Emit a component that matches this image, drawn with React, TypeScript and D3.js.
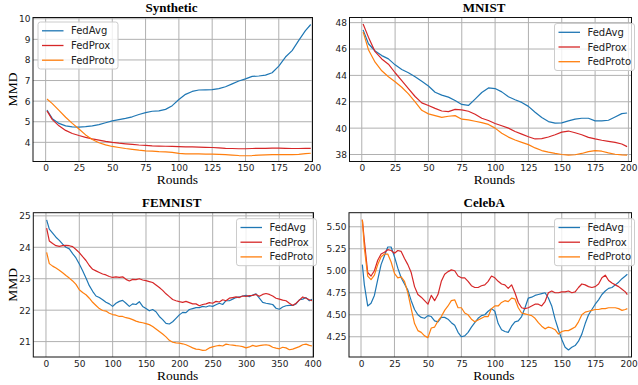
import React, { useRef, useEffect } from 'react'
import * as d3 from 'd3'

const SERIES = ['FedAvg', 'FedProx', 'FedProto']
const COLORS = ['#1f77b4', '#d62728', '#ff7f0e']

// x positions (communication rounds)
const roundsShort = [1, ...d3.range(5, 200, 5), 199]
const roundsFemnist = [1, ...d3.range(5, 400, 5), 399]
const roundsCeleba = [1, ...d3.range(2.5, 198, 2.5), 199]

const ticks200 = [0, 25, 50, 75, 100, 125, 150, 175, 200]
const ticks400 = [0, 50, 100, 150, 200, 250, 300, 350, 400]

// Synthetic
const synthAvg = [5.57, 5.15, 4.92, 4.80, 4.75, 4.74, 4.76, 4.80, 4.86, 4.95, 5.04, 5.10, 5.16, 5.24, 5.35, 5.44, 5.51, 5.53, 5.60, 5.78, 6.08, 6.33, 6.47, 6.54, 6.55, 6.56, 6.61, 6.70, 6.84, 6.98, 7.08, 7.20, 7.22, 7.26, 7.38, 7.70, 8.14, 8.45, 8.95, 9.42, 9.72]
const synthProx = [5.53, 5.10, 4.80, 4.58, 4.43, 4.33, 4.24, 4.17, 4.11, 4.05, 4.00, 3.96, 3.93, 3.90, 3.87, 3.85, 3.83, 3.82, 3.81, 3.80, 3.79, 3.78, 3.78, 3.77, 3.76, 3.75, 3.73, 3.71, 3.70, 3.69, 3.69, 3.70, 3.71, 3.71, 3.72, 3.72, 3.71, 3.70, 3.70, 3.71, 3.71]
const synthProto = [6.10, 5.88, 5.55, 5.22, 4.92, 4.65, 4.36, 4.14, 3.98, 3.88, 3.80, 3.75, 3.70, 3.66, 3.62, 3.59, 3.57, 3.55, 3.54, 3.51, 3.46, 3.44, 3.44, 3.44, 3.43, 3.43, 3.42, 3.40, 3.38, 3.36, 3.35, 3.36, 3.38, 3.39, 3.40, 3.40, 3.40, 3.40, 3.42, 3.45, 3.47]

// MNIST
const mnistAvg = [47.45, 46.4, 45.85, 45.5, 45.25, 44.8, 44.45, 44.2, 43.9, 43.55, 43.2, 42.72, 42.5, 42.35, 42.1, 41.8, 41.72, 42.2, 42.7, 43.05, 43.0, 42.75, 42.38, 42.15, 41.95, 41.65, 41.2, 40.8, 40.5, 40.38, 40.4, 40.55, 40.68, 40.75, 40.75, 40.55, 40.55, 40.6, 40.85, 41.1, 41.15]
const mnistProx = [47.9, 46.9, 45.8, 45.25, 44.85, 44.2, 43.6, 43.0, 42.4, 41.92, 41.72, 41.5, 41.3, 41.25, 41.42, 41.38, 41.28, 41.05, 40.75, 40.58, 40.35, 40.18, 40.0, 39.75, 39.55, 39.35, 39.18, 39.2, 39.33, 39.5, 39.7, 39.78, 39.65, 39.5, 39.3, 39.18, 39.08, 39.0, 38.92, 38.8, 38.6]
const mnistProto = [47.3, 45.95, 45.0, 44.35, 43.9, 43.52, 43.1, 42.6, 42.0, 41.35, 41.08, 40.95, 40.82, 40.9, 40.95, 40.68, 40.62, 40.52, 40.42, 40.28, 40.0, 39.62, 39.32, 39.1, 38.92, 38.75, 38.5, 38.3, 38.18, 38.08, 38.0, 37.96, 37.98, 38.08, 38.22, 38.3, 38.25, 38.12, 38.02, 37.97, 37.95]

// FEMNIST
const femAvg = [24.87, 24.58, 24.45, 24.32, 24.22, 24.1, 24.0, 23.95, 23.8, 23.66, 23.47, 23.25, 23.02, 22.78, 22.6, 22.45, 22.4, 22.33, 22.25, 22.2, 22.12, 22.22, 22.28, 22.31, 22.22, 22.12, 22.2, 22.18, 22.27, 22.12, 22.05, 21.98, 22.02, 21.95, 21.8, 21.7, 21.58, 21.56, 21.63, 21.74, 21.85, 21.93, 21.92, 22.02, 22.05, 22.08, 22.08, 22.12, 22.1, 22.14, 22.12, 22.17, 22.22, 22.18, 22.3, 22.3, 22.35, 22.4, 22.42, 22.45, 22.47, 22.43, 22.48, 22.52, 22.38, 22.25, 22.22, 22.2, 22.18, 22.06, 22.03, 22.1, 22.14, 22.15, 22.15, 22.2, 22.33, 22.35, 22.4, 22.3, 22.35]
const femProx = [24.61, 24.2, 24.12, 24.05, 24.03, 24.05, 24.06, 24.05, 24.02, 23.93, 23.83, 23.7, 23.58, 23.42, 23.3, 23.25, 23.2, 23.15, 23.12, 23.07, 23.04, 23.06, 23.04, 23.06, 22.98, 22.93, 22.98, 22.97, 23.0, 22.96, 22.94, 22.91, 22.88, 22.8, 22.72, 22.63, 22.52, 22.43, 22.34, 22.3, 22.27, 22.25, 22.28, 22.24, 22.2, 22.2, 22.14, 22.18, 22.2, 22.24, 22.22, 22.28, 22.26, 22.33, 22.3, 22.38, 22.4, 22.42, 22.4, 22.45, 22.44, 22.46, 22.47, 22.5, 22.44, 22.5, 22.53, 22.5, 22.45, 22.38, 22.35, 22.32, 22.3, 22.22, 22.15, 22.22, 22.32, 22.42, 22.38, 22.33, 22.3]
const femProto = [23.84, 23.48, 23.4, 23.34, 23.27, 23.19, 23.1, 23.02, 22.93, 22.82, 22.65, 22.56, 22.49, 22.38, 22.25, 22.15, 22.05, 21.99, 21.97, 21.9, 21.86, 21.84, 21.8, 21.8, 21.76, 21.74, 21.7, 21.65, 21.62, 21.6, 21.57, 21.54, 21.48, 21.4, 21.32, 21.24, 21.15, 21.04, 20.98, 20.96, 20.95, 20.93, 20.9, 20.85, 20.8, 20.76, 20.75, 20.72, 20.73, 20.8, 20.83, 20.86, 20.88, 20.86, 20.92, 20.9, 20.89, 20.87, 20.86, 20.84, 20.8, 20.83, 20.88, 20.85, 20.87, 20.89, 20.9, 20.88, 20.82, 20.79, 20.77, 20.82, 20.8, 20.74, 20.76, 20.8, 20.84, 20.9, 20.92, 20.88, 20.86]

// CelebA
const celebAvg = [5.07, 4.84, 4.6, 4.63, 4.72, 4.9, 5.07, 5.17, 5.27, 5.27, 5.16, 5.03, 4.92, 4.85, 4.78, 4.66, 4.56, 4.5, 4.47, 4.46, 4.49, 4.48, 4.43, 4.42, 4.47, 4.47, 4.45, 4.41, 4.38, 4.3, 4.25, 4.26, 4.3, 4.36, 4.41, 4.46, 4.49, 4.5, 4.54, 4.57, 4.54, 4.4, 4.33, 4.31, 4.3, 4.37, 4.42, 4.43, 4.48, 4.58, 4.69, 4.7, 4.72, 4.73, 4.74, 4.75, 4.69, 4.6, 4.45, 4.33, 4.22, 4.13, 4.1, 4.13, 4.15, 4.2, 4.28, 4.4, 4.5, 4.56, 4.62, 4.67, 4.73, 4.77, 4.8, 4.81, 4.84, 4.87, 4.91, 4.94, 4.96]
const celebProx = [5.58, 5.34, 4.98, 4.94, 5.0, 5.12, 5.19, 5.21, 5.24, 5.23, 5.2, 5.23, 5.22, 5.14, 5.07, 4.98, 4.82, 4.73, 4.7, 4.66, 4.62, 4.72, 4.66, 4.73, 4.88, 4.96, 4.99, 5.01, 5.0, 4.94, 4.92, 4.92, 4.88, 4.83, 4.81, 4.81, 4.83, 4.84, 4.88, 4.94, 4.92, 4.88, 4.85, 4.84, 4.8, 4.84, 4.75, 4.64, 4.58, 4.57, 4.58, 4.6, 4.62, 4.62, 4.6, 4.65, 4.75, 4.77, 4.75, 4.75, 4.76, 4.76, 4.77, 4.75, 4.76, 4.81, 4.85, 4.84, 4.82, 4.81, 4.82, 4.85, 4.92, 4.95, 4.89, 4.86, 4.84, 4.82, 4.79, 4.76, 4.73]
const celebProto = [5.58, 5.26, 4.94, 4.9, 4.95, 5.07, 5.16, 5.19, 5.19, 5.1, 4.97, 4.92, 4.93, 4.88, 4.75, 4.57, 4.4, 4.32, 4.3, 4.26, 4.24, 4.35, 4.36, 4.43, 4.48, 4.55, 4.6, 4.66, 4.67, 4.58, 4.58, 4.52, 4.5, 4.45, 4.42, 4.44, 4.46, 4.48, 4.48, 4.57, 4.6, 4.6, 4.64, 4.66, 4.65, 4.69, 4.68, 4.58, 4.52, 4.51, 4.5, 4.49, 4.46, 4.41, 4.37, 4.34, 4.36, 4.35, 4.33, 4.28, 4.31, 4.32, 4.32, 4.34, 4.36, 4.42, 4.5, 4.53, 4.54, 4.55, 4.56, 4.56, 4.57, 4.57, 4.58, 4.58, 4.58, 4.57, 4.55, 4.56, 4.57]

const PANELS = [
  {
    id: 'syn', title: 'Synthetic', rounds: roundsShort, series: [synthAvg, synthProx, synthProto],
    xDomain: [-9.5, 200.3], yDomain: [3.07, 10.06], xTicks: ticks200, yTicks: [4, 5, 6, 7, 8, 9, 10],
    yFmt: d3.format('d'), rect: { x0: 33, x1: 312.5, y0: 17.5, y1: 161.5 },
    legend: 'left', ylabel: true, titleX: 171.5, labelX: 177.5,
  },
  {
    id: 'mnist', title: 'MNIST', rounds: roundsShort, series: [mnistAvg, mnistProx, mnistProto],
    xDomain: [-9.2, 202.3], yDomain: [37.47, 48.39], xTicks: ticks200, yTicks: [38, 40, 42, 44, 46, 48],
    yFmt: d3.format('d'), rect: { x0: 349.5, x1: 631.5, y0: 17.5, y1: 161.5 },
    legend: 'right', ylabel: false, titleX: 484, labelX: 494.5,
  },
  {
    id: 'fem', title: 'FEMNIST', rounds: roundsFemnist, series: [femAvg, femProx, femProto],
    xDomain: [-19, 401.2], yDomain: [20.51, 25.1], xTicks: ticks400, yTicks: [21, 22, 23, 24, 25],
    yFmt: d3.format('d'), rect: { x0: 33.3, x1: 313.5, y0: 212.7, y1: 357 },
    legend: 'right', ylabel: true, titleX: 171.7, labelX: 177.7,
  },
  {
    id: 'celeb', title: 'CelebA', rounds: roundsCeleba, series: [celebAvg, celebProx, celebProto],
    xDomain: [-8.97, 202.1], yDomain: [4.02, 5.66], xTicks: ticks200, yTicks: [4.25, 4.5, 4.75, 5.0, 5.25, 5.5],
    yFmt: d3.format('.2f'), rect: { x0: 349, x1: 631.5, y0: 212.7, y1: 357 },
    legend: 'right', ylabel: false, titleX: 484.2, labelX: 494,
  },
]

const SANS = 'DejaVu Sans, sans-serif'
const SERIF = 'Liberation Serif, Times New Roman, serif'

function Panel({ spec }: { spec: any }) {
  const ref = useRef<SVGGElement>(null)

  useEffect(() => {
    const g = d3.select(ref.current)
    g.selectAll('*').remove()
    const { x0, x1, y0, y1 } = spec.rect

    const x = d3.scaleLinear().domain(spec.xDomain).range([x0, x1])
    const y = d3.scaleLinear().domain(spec.yDomain).range([y1, y0])

    // grid
    g.append('g').selectAll('line').data(spec.xTicks).join('line')
      .attr('x1', (d: any) => x(d)).attr('x2', (d: any) => x(d))
      .attr('y1', y0).attr('y2', y1)
      .attr('stroke', '#b0b0b0').attr('stroke-width', 1)
    g.append('g').selectAll('line').data(spec.yTicks).join('line')
      .attr('y1', (d: any) => y(d)).attr('y2', (d: any) => y(d))
      .attr('x1', x0).attr('x2', x1)
      .attr('stroke', '#b0b0b0').attr('stroke-width', 1)

    const clipId = `clip-${spec.id}`
    g.append('clipPath').attr('id', clipId).append('rect')
      .attr('x', x0).attr('y', y0).attr('width', x1 - x0).attr('height', y1 - y0)

    const line = d3.line<number>()
      .x((_, i) => x(spec.rounds[i]))
      .y(d => y(d))

    spec.series.forEach((vals: number[], k: number) => {
      g.append('path')
        .datum(vals)
        .attr('d', line)
        .attr('fill', 'none')
        .attr('stroke', COLORS[k])
        .attr('stroke-width', 1.2)
        .attr('stroke-linejoin', 'round')
        .attr('clip-path', `url(#${clipId})`)
    })

    // frame
    g.append('rect')
      .attr('x', x0).attr('y', y0).attr('width', x1 - x0).attr('height', y1 - y0)
      .attr('fill', 'none').attr('stroke', '#111').attr('stroke-width', 1)

    // axes
    g.append('g')
      .attr('transform', `translate(0,${y1})`)
      .call(d3.axisBottom(x).tickValues(spec.xTicks).tickSize(0).tickPadding(3.6).tickFormat(d3.format('d')) as any)
      .attr('font-family', SANS).attr('font-size', 9)
      .call((a: any) => a.select('.domain').remove())
      .call((a: any) => a.selectAll('text').attr('fill', '#222'))

    g.append('g')
      .attr('transform', `translate(${x0},0)`)
      .call(d3.axisLeft(y).tickValues(spec.yTicks).tickSize(0).tickPadding(2.5).tickFormat(spec.yFmt) as any)
      .attr('font-family', SANS).attr('font-size', 9)
      .call((a: any) => a.select('.domain').remove())
      .call((a: any) => a.selectAll('text').attr('fill', '#222'))

    // title and labels
    g.append('text')
      .attr('x', spec.titleX).attr('y', y0 - 5.8)
      .attr('text-anchor', 'middle')
      .attr('font-family', SERIF).attr('font-weight', 'bold').attr('font-size', 13)
      .text(spec.title)

    g.append('text')
      .attr('x', spec.labelX).attr('y', y1 + 22.5)
      .attr('text-anchor', 'middle')
      .attr('font-family', SERIF).attr('font-size', 13.5)
      .text('Rounds')

    if (spec.ylabel) {
      g.append('text')
        .attr('transform', `translate(17,${(y0 + y1) / 2}) rotate(-90)`)
        .attr('text-anchor', 'middle')
        .attr('font-family', SERIF).attr('font-size', 13.5)
        .text('MMD')
    }

    // legend
    const bw = 80
    const bh = 47
    const bx = spec.legend === 'left' ? x0 + 5 : x1 - 77
    const by = spec.legend === 'left' ? y0 + 4.5 : y0 + 6
    const lg = g.append('g')
    lg.append('rect')
      .attr('x', bx).attr('y', by).attr('width', bw).attr('height', bh)
      .attr('rx', 2.5)
      .attr('fill', 'white').attr('fill-opacity', 0.8)
      .attr('stroke', '#cccccc').attr('stroke-width', 1)
    SERIES.forEach((name, k) => {
      const cy = by + 8.8 + k * 14.7
      lg.append('line')
        .attr('x1', bx + 4).attr('x2', bx + 25.5)
        .attr('y1', cy).attr('y2', cy)
        .attr('stroke', COLORS[k]).attr('stroke-width', 1.3)
      lg.append('text')
        .attr('x', bx + 33).attr('y', cy).attr('dy', '0.35em')
        .attr('font-family', SANS).attr('font-size', 10).attr('fill', '#222')
        .text(name)
    })
  }, [spec])

  return <g ref={ref} />
}

export default function App() {
  return (
    <svg
      width={638}
      height={385}
      viewBox="0 0 638 385"
      style={{ position: 'absolute', left: 0, top: 0, background: '#fff' }}
    >
      <rect x={0} y={0} width={638} height={385} fill="#fff" />
      {PANELS.map(p => <Panel key={p.id} spec={p} />)}
    </svg>
  )
}
